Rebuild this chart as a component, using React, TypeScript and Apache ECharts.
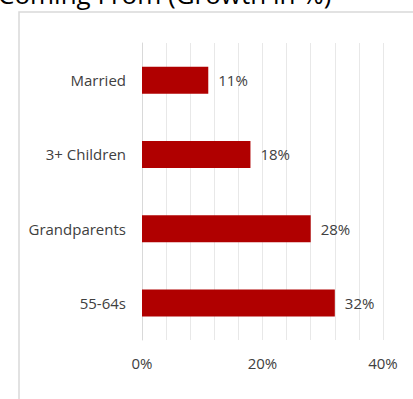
import React, { useEffect, useRef } from "react";
import * as echarts from "echarts";

const categories = ["Married", "3+ Children", "Grandparents", "55-64s"];
const growth = [11, 18, 28, 32];
const titleText = "Coming From (Growth in %)";

export default function App() {
  const ref = useRef<HTMLDivElement>(null);
  useEffect(() => {
    if (!ref.current) return;
    const chart = echarts.init(ref.current, null, { renderer: "svg" });
    const font = "'Open Sans', 'Noto Sans', sans-serif";
    chart.setOption({
      animation: false,
      graphic: [
        {
          type: "rect",
          shape: { x: 19, y: 12, width: 420, height: 420 },
          style: { fill: "none", stroke: "#d9d9d9", lineWidth: 1.5 },
          silent: true,
        },
        {
          type: "text",
          left: -2,
          top: -19,
          style: {
            text: titleText,
            font: `26px ${font}`,
            fill: "#000000",
          },
        },
      ],
      grid: { left: 142, right: 30, top: 43, bottom: 59, containLabel: false },
      xAxis: {
        type: "value",
        min: 0,
        max: 40,
        interval: 4,
        axisLine: { show: false },
        axisTick: { show: false },
        splitLine: { lineStyle: { color: "#e8e8e8", width: 1 } },
        axisLabel: {
          margin: 15,
          fontFamily: font,
          fontSize: 15,
          color: "#404040",
          formatter: (v: number) => (v % 20 === 0 ? `${v}%` : ""),
        },
      },
      yAxis: {
        type: "category",
        inverse: true,
        data: categories,
        axisLine: { show: true, lineStyle: { color: "#d9d9d9", width: 1 } },
        axisTick: { show: false },
        axisLabel: {
          margin: 16,
          fontFamily: font,
          fontSize: 15,
          color: "#404040",
        },
      },
      series: [
        {
          type: "bar",
          data: growth,
          barWidth: 27,
          itemStyle: { color: "#b00000" },
          label: {
            show: true,
            position: "right",
            distance: 10,
            formatter: "{c}%",
            fontFamily: font,
            fontSize: 15,
            color: "#404040",
          },
        },
      ],
    });
    return () => chart.dispose();
  }, []);
  return (
    <div
      ref={ref}
      style={{ position: "fixed", left: 0, top: 0, width: 413, height: 399, background: "#fff" }}
    />
  );
}
